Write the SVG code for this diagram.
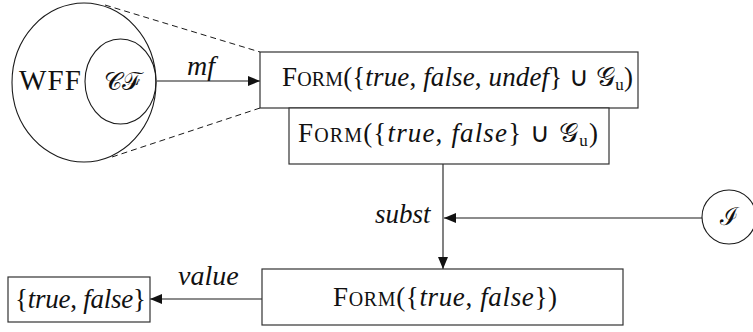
<svg xmlns="http://www.w3.org/2000/svg" width="753" height="332" viewBox="0 0 753 332">
<style>
.ln{fill:none;stroke:#1a1a1a;stroke-width:1.1}
.box{fill:#fff;stroke:#333;stroke-width:1.2}
.dash{fill:none;stroke:#1a1a1a;stroke-width:1;stroke-dasharray:6 4}
.t{fill:#111}
</style>
<defs>
<marker id="ah" viewBox="0 0 12 10" refX="12" refY="5" markerWidth="12" markerHeight="10" markerUnits="userSpaceOnUse" orient="auto">
<path d="M0,0 L12,5 L0,10 Z" fill="#111"/>
</marker>
</defs>
<g id="connectors">
<line class="dash" x1="105" y1="5" x2="260" y2="52"/>
<line class="dash" x1="112" y1="157" x2="260" y2="108"/>
<line class="ln" x1="157" y1="81" x2="260" y2="81" marker-end="url(#ah)"/>
<line class="ln" x1="443" y1="164" x2="443" y2="269" marker-end="url(#ah)"/>
<line class="ln" x1="702" y1="218" x2="444" y2="218" marker-end="url(#ah)"/>
<line class="ln" x1="262" y1="299" x2="150" y2="299" marker-end="url(#ah)"/>
<text class="t" x="187" y="75" font-family="'Liberation Serif', serif" font-size="28" font-style="italic">mf</text>
<text class="t" x="375" y="223" font-family="'Liberation Serif', serif" font-size="27" font-style="italic">subst</text>
<text class="t" x="178" y="285" font-family="'Liberation Serif', serif" font-size="28" font-style="italic">value</text>
</g>
<g id="wff">
<ellipse class="ln" cx="84" cy="82.5" rx="72" ry="79.5"/>
<text class="t" x="19" y="90" font-family="'Liberation Serif', serif" font-size="29" textLength="62">WFF</text>
</g>
<g id="cf">
<ellipse class="ln" cx="120.5" cy="81.5" rx="35.5" ry="42.5"/>
<text class="t" x="122" y="90" font-family="'Liberation Serif', serif" font-size="25" text-anchor="middle">𝒞ℱ</text>
</g>
<g id="form-undef">
<rect class="box" x="260" y="52" width="378" height="56"/>
<text class="t" x="282" y="86" font-family="'Liberation Serif', serif" font-size="27" textLength="351">F<tspan font-size="20">ORM</tspan>({<tspan font-style="italic">true</tspan>, <tspan font-style="italic">false</tspan>, <tspan font-style="italic">undef</tspan>} ∪ 𝒢<tspan font-size="17" dy="4">u</tspan><tspan dy="-4">)</tspan></text>
</g>
<g id="form-gu">
<rect class="box" x="289" y="108" width="320" height="56"/>
<text class="t" x="298" y="142" font-family="'Liberation Serif', serif" font-size="27" textLength="300">F<tspan font-size="20">ORM</tspan>({<tspan font-style="italic">true</tspan>, <tspan font-style="italic">false</tspan>} ∪ 𝒢<tspan font-size="17" dy="4">u</tspan><tspan dy="-4">)</tspan></text>
</g>
<g id="interp">
<circle class="ln" cx="729" cy="217" r="27"/>
<text class="t" x="729" y="225" font-family="'Liberation Serif', serif" font-size="25" text-anchor="middle">ℐ</text>
</g>
<g id="form-bool">
<rect class="box" x="262" y="269" width="361" height="56"/>
<text class="t" x="333" y="306" font-family="'Liberation Serif', serif" font-size="27" textLength="224">F<tspan font-size="20">ORM</tspan>({<tspan font-style="italic">true</tspan>, <tspan font-style="italic">false</tspan>})</text>
</g>
<g id="bool">
<rect class="box" x="8" y="277" width="142" height="45"/>
<text class="t" x="15" y="308" font-family="'Liberation Serif', serif" font-size="27" textLength="131">{<tspan font-style="italic">true</tspan>, <tspan font-style="italic">false</tspan>}</text>
</g>
</svg>
